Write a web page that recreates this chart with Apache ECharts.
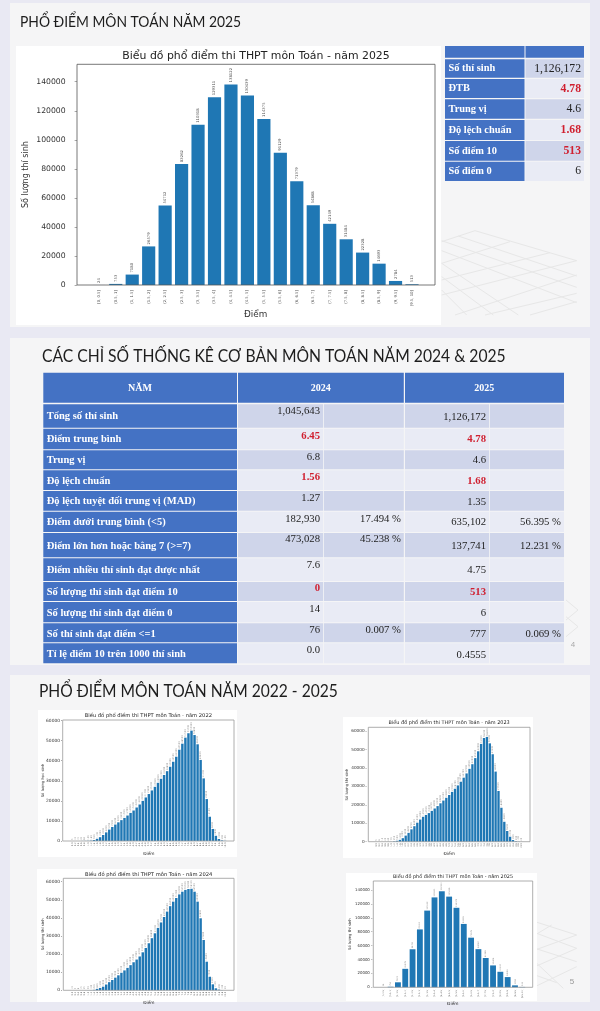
<!DOCTYPE html>
<html><head><meta charset="utf-8">
<style>html,body{margin:0;padding:0;background:#e9e9f3}#c{width:600px;height:1011px;filter:blur(.35px)}</style>
<script src="https://cdn.jsdelivr.net/npm/echarts@6/dist/echarts.min.js"></script>
</head><body><div id="c"></div>
<script>
// ---------- DATA ----------
const bins2025 = ['[0, 0.5]','(0.5, 1]','(1, 1.5]','(1.5, 2]','(2, 2.5]','(2.5, 3]','(3, 3.5]','(3.5, 4]','(4, 4.5]','(4.5, 5]','(5, 5.5]','(5.5, 6]','(6, 6.5]','(6.5, 7]','(7, 7.5]','(7.5, 8]','(8, 8.5]','(8.5, 9]','(9, 9.5]','(9.5, 10]'];
const counts2025 = [24,753,7180,26579,54712,83262,110318,129311,138122,130439,114375,91129,71379,54868,42149,31484,22328,14693,2784,513];
const scores = ['0.0','0.2','0.4','0.6','0.8','1.0','1.2','1.4','1.6','1.8','2.0','2.2','2.4','2.6','2.8','3.0','3.2','3.4','3.6','3.8','4.0','4.2','4.4','4.6','4.8','5.0','5.2','5.4','5.6','5.8','6.0','6.2','6.4','6.6','6.8','7.0','7.2','7.4','7.6','7.8','8.0','8.2','8.4','8.6','8.8','9.0','9.2','9.4','9.6','9.8','10.0'];
const counts2022 = [5,10,15,30,60,100,180,500,1100,1900,3000,4300,5700,7000,8200,9300,10400,11500,12700,14000,15200,16700,18200,20000,21700,23400,25200,27000,29000,31000,32900,34800,37000,39500,42000,45500,48500,51500,53700,55000,52800,48200,40400,31200,20900,12100,6000,2600,1000,300,100];
const counts2023 = [5,8,10,20,40,70,250,500,1000,1900,3300,4800,6700,8400,10300,12000,13500,14500,15500,16700,18000,19300,20800,22300,23800,25300,27000,28700,30500,32500,34700,37000,39500,42000,45300,49000,53000,56200,56800,53300,47400,38000,27500,18400,10800,5800,2700,900,300,100,20];
const counts2024 = [10,5,8,15,25,50,100,250,800,1300,2000,3200,4500,5700,7000,8300,9700,11000,12400,13900,15500,17000,18700,21000,23400,26000,28800,31500,34500,37500,40500,43500,46500,49000,51000,53000,54500,55500,56000,56100,54500,49000,39800,27800,15800,7500,3300,1100,400,100,20];

const sideLabels = ['Số thí sinh','ĐTB','Trung vị','Độ lệch chuẩn','Số điểm 10','Số điểm 0'];
const sideValues = ['1,126,172','4.78','4.6','1.68','513','6'];
const sideRed = [false,true,false,true,true,false];

const statHeaders = ['NĂM','2024','2025'];
const statLabels = ['Tổng số thí sinh','Điểm trung bình','Trung vị','Độ lệch chuẩn','Độ lệch tuyệt đối trung vị (MAD)','Điểm dưới trung bình (<5)','Điểm lớn hơn hoặc bằng 7 (>=7)','Điểm nhiều thí sinh đạt được nhất','Số lượng thí sinh đạt điểm 10','Số lượng thí sinh đạt điểm 0','Số thí sinh đạt điểm <=1','Tỉ lệ điểm 10 trên 1000 thí sinh'];
const stat2024 = ['1,045,643','6.45','6.8','1.56','1.27','182,930','473,028','7.6','0','14','76','0.0'];
const pct2024 = ['','','','','','17.494 %','45.238 %','','','','0.007 %',''];
const stat2025 = ['1,126,172','4.78','4.6','1.68','1.35','635,102','137,741','4.75','513','6','777','0.4555'];
const pct2025 = ['','','','','','56.395 %','12.231 %','','','','0.069 %',''];
const statRed = [false,true,false,true,false,false,false,false,true,false,false,false];

const chartTitle = 'Biểu đồ phổ điểm thi THPT môn Toán - năm ';
const slideTitles = ['PHỔ ĐIỂM MÔN TOÁN NĂM 2025','CÁC CHỈ SỐ THỐNG KÊ CƠ BẢN MÔN TOÁN NĂM 2024 & 2025','PHỔ ĐIỂM MÔN TOÁN NĂM 2022 - 2025'];

// ---------- LAYOUT ----------
const g = [];
const rect=(x,y,w,h,fill,z=0)=>g.push({type:'rect',z,silent:true,shape:{x,y,width:w,height:h},style:{fill}});
const text=(t,x,y,font,fill,align='left',z=3,extra={},sx=1)=>g.push({type:'text',z,silent:true,x,y,scaleX:sx,style:Object.assign({text:t,font,fill,align,verticalAlign:'middle'},extra)});
const line=(ox,oy,s)=>g.push({type:'line',z:0,silent:true,shape:{x1:ox+s[0]/3,y1:oy+s[1]/3,x2:ox+s[2]/3,y2:oy+s[3]/3},style:{stroke:'#e7e7e7',lineWidth:1}});

// slide panels
[[3,324],[338,327],[675,327]].forEach(p=>rect(10,p[0],580,p[1],'#f5f5f6',0));
[[135,92,440,182],[85,108,440,228],[35,122,440,262],[35,152,440,308],[35,190,265,345],[35,230,190,345],[35,270,110,345],
 [135,92,35,125],[240,125,35,190],[360,158,35,240],[440,182,35,285],[440,225,75,345],[440,280,165,345],[440,305,300,345]].forEach(s=>line(430,200,s));
[[75,185,200,225],[75,218,200,265],[75,265,200,305],[75,305,160,385],[75,345,140,368],[125,195,75,225],[200,225,75,270],[200,265,75,320],[200,320,75,380]].forEach(s=>line(510,860,s));
[[0,0,36,30],[36,30,0,60],[0,50,36,80],[36,80,0,110]].forEach(s=>line(566,600,s));
text('4',573,645,'8px "Liberation Sans"','#aaa','center');
text('5',572,982,'8px "Liberation Sans"','#999','center');

text(slideTitles[0],20,22,'16px Lato','#1d1d1d','left',3,{},.866);
text(slideTitles[1],42,357,'16.5px Lato','#1d1d1d','left',3,{},.95);
text(slideTitles[2],39,692,'16.5px Lato','#1d1d1d','left',3,{},.945);

// white picture backgrounds
[[16,46,425,279],[38,710,199,147],[343,717,190,141],[37,869,200,133],[346,873,191,128]].forEach(r=>rect(r[0],r[1],r[2],r[3],'#fff',0));

// side table
const blue='#4472c4',dark='#cfd5ea',lite='#e9ebf5',red='#d01f2f',ink='#222';
const serifB=s=>`bold ${s}px "Liberation Serif"`, serif=s=>`${s}px "Liberation Serif"`;
rect(445,46,79.5,11.7,blue);rect(525.5,46,58.5,11.7,blue);
const sideTops=[59.3,79,99.3,120,141,161.7],sideBots=[77.7,98,118.7,140,160.7,181];
sideLabels.forEach((l,i)=>{
  const y=sideTops[i],h=sideBots[i]-y,m=y+h/2;
  rect(445,y,79.5,h,blue);rect(525.5,y,58.5,h,i%2?lite:dark);
  text(l,448.5,m,serifB(10.4),'#fff','left',3,{letterSpacing:0.45});
  text(sideValues[i],581,m,sideRed[i]?serifB(11.7):serif(11.7),sideRed[i]?red:ink,'right');
});

// stats table
rect(43.3,372.7,193.7,30,blue);rect(238,372.7,165.8,30,blue);rect(405,372.7,159,30,blue);
text(statHeaders[0],140,388.3,serifB(10),'#fff','center',3,{letterSpacing:0.5});
text(statHeaders[1],320.7,388.3,serifB(10),'#fff','center',3,{letterSpacing:0.5});
text(statHeaders[2],484.3,388.3,serifB(10),'#fff','center',3,{letterSpacing:0.5});
const rowTops=[404.3,428.7,450.3,470.3,491,511.7,533,558.3,582,602,623.3,643.3];
const rowBots=[427.7,449.3,469.3,490,510.7,532,557.3,581,601,622.3,642.3,663.3];
const y24=[411,436,456.7,477.3,498,518.7,539.3,565.3,588.3,609,629.7,650.3];
const y25=[416.7,439.7,460.3,481,501.7,522.3,546,570.3,592,613.3,634,654.7];
statLabels.forEach((l,i)=>{
  const y=rowTops[i],h=rowBots[i]-y,c=i%2?lite:dark;
  rect(43.3,y,193.7,h,blue);
  rect(238,y,85,h,c);rect(323.8,y,80,h,c);rect(405,y,84,h,c);rect(489.8,y,74.2,h,c);
  text(l,46.7,y25[i],serifB(10.5),'#fff','left',3,{letterSpacing:0.5});
  text(stat2024[i],320,y24[i],statRed[i]?serifB(10.7):serif(10.7),statRed[i]?red:ink,'right');
  if(pct2024[i])text(pct2024[i],401,y24[i],serif(10.7),ink,'right');
  text(stat2025[i],486,y25[i],statRed[i]?serifB(10.7):serif(10.7),statRed[i]?red:ink,'right');
  if(pct2025[i])text(pct2025[i],561,y25[i],serif(10.7),ink,'right');
});

// ---------- CHARTS ----------
const grids=[],xAxes=[],yAxes=[],series=[],titles=[];
function addChart(o){
  const i=grids.length,n=o.values.length,sp=(o.lastC-o.firstC)/(n-1),pad=o.pad;
  const blanks=Array(pad).fill('');
  const gridLeft=o.firstC-(pad+.5)*sp;
  grids.push({left:gridLeft,width:(n+2*pad)*sp,top:o.top,height:o.bottom-o.top});
  g.push({type:'rect',z:10,silent:true,shape:{x:o.left,y:o.top,width:o.right-o.left,height:o.bottom-o.top},style:{fill:'none',stroke:o.frameC,lineWidth:o.frameW}});
  const show=(idx,v)=>v!=='';
  xAxes.push({gridIndex:i,type:'category',data:blanks.concat(o.cats,blanks),
    name:'Điểm',nameLocation:'middle',nameGap:o.xGap,nameTextStyle:{fontFamily:'DejaVu Sans',fontSize:o.xNameSize,color:'#333'},
    axisLine:{show:false},axisTick:{alignWithLabel:true,length:o.tick,interval:show,lineStyle:{color:'#555',width:.5}},
    axisLabel:{interval:show,rotate:90,fontFamily:'DejaVu Sans',fontSize:o.catSize,color:'#555',margin:o.catMargin},splitLine:{show:false}});
  yAxes.push({gridIndex:i,type:'value',min:0,max:o.ymax,interval:o.yint,
    name:o.yName,nameLocation:'middle',nameGap:o.yGap,nameMoveOverlap:false,nameTextStyle:{fontFamily:'DejaVu Sans',fontSize:o.nameSize,color:'#333'},
    axisLine:{show:false},axisTick:{show:true,inside:o.tickIn,length:o.tick,lineStyle:{color:'#555',width:.5}},
    axisLabel:{showMaxLabel:false,formatter:v=>String(v),fontFamily:'DejaVu Sans',fontSize:o.ySize,color:'#333',margin:o.yMargin},splitLine:{show:false}});
  series.push({type:'bar',xAxisIndex:i,yAxisIndex:i,barWidth:'80%',itemStyle:{color:'#1f77b4'},silent:true,animation:false,
    data:blanks.map(()=>null).concat(o.values,blanks.map(()=>null)),
    label:{show:true,position:'top',rotate:90,distance:o.valDist,fontFamily:'DejaVu Sans',fontSize:o.valSize,color:o.valColor,align:'left',verticalAlign:'middle'}});
  titles.push({text:chartTitle+o.year,left:(o.left+o.right)/2,top:o.titleY-o.titleSize*.6,padding:0,textAlign:'center',textStyle:{fontFamily:'DejaVu Sans',fontWeight:'normal',fontSize:o.titleSize,color:'#222',lineHeight:o.titleSize*1.2}});
}
addChart({year:2025,cats:bins2025,values:counts2025,firstC:99.3,lastC:412,pad:1,left:77,right:435,top:64.3,bottom:285,ymax:152000,yint:20000,frameW:.8,frameC:'#555',tickIn:true,
  xGap:25,yGap:45,nameSize:8,xNameSize:8.8,tick:2.4,catSize:3.8,catMargin:5,ySize:7.7,yMargin:9,valSize:3.8,valDist:2,valColor:'#555',titleY:56,titleSize:10.9,yName:'Số lượng thí sinh'});
addChart({year:2022,cats:scores,values:counts2022,firstC:72.7,lastC:225,pad:3,left:62.7,right:234,top:720,bottom:841,ymax:60300,yint:10000,frameW:.8,frameC:'#999',
  xGap:11,yGap:17.5,nameSize:3.8,xNameSize:4.3,tick:1,catSize:2.3,catMargin:1.5,ySize:4.4,yMargin:2,valSize:2.3,valDist:1,valColor:'#888',titleY:716,titleSize:5.2,yName:'Số lượng học sinh'});
addChart({year:2023,cats:scores,values:counts2023,firstC:376.7,lastC:521.7,pad:3,left:368.3,right:530,top:727.3,bottom:841.7,ymax:62000,yint:10000,frameW:.8,frameC:'#999',
  xGap:9,yGap:17.5,nameSize:3.8,xNameSize:4.3,tick:1,catSize:2.3,catMargin:1.5,ySize:4.2,yMargin:2,valSize:2.3,valDist:1,valColor:'#888',titleY:722.7,titleSize:4.95,yName:'Số lượng thí sinh'});
addChart({year:2024,cats:scores,values:counts2024,firstC:72.7,lastC:225,pad:3,left:63.3,right:234,top:878.3,bottom:990.3,ymax:61900,yint:10000,frameW:.8,frameC:'#999',
  xGap:10,yGap:17.5,nameSize:3.8,xNameSize:4.3,tick:1,catSize:2.3,catMargin:1.5,ySize:4.4,yMargin:2,valSize:2.3,valDist:1,valColor:'#888',titleY:875,titleSize:5.2,yName:'Số lượng thí sinh'});
addChart({year:2025,cats:bins2025,values:counts2025,firstC:383.3,lastC:522.3,pad:1,left:373.3,right:532.7,top:881,bottom:987.3,ymax:152900,yint:20000,frameW:.8,frameC:'#999',
  xGap:13,yGap:20,nameSize:3.8,xNameSize:4.3,tick:1,catSize:2.1,catMargin:2,ySize:3.9,yMargin:2.5,valSize:2.1,valDist:1,valColor:'#888',titleY:877,titleSize:4.9,yName:'Số lượng thí sinh'});

const chart=echarts.init(document.getElementById('c'));
chart.setOption({animation:false,backgroundColor:'#e9e9f3',title:titles,grid:grids,xAxis:xAxes,yAxis:yAxes,series,graphic:g});
</script></body></html>
